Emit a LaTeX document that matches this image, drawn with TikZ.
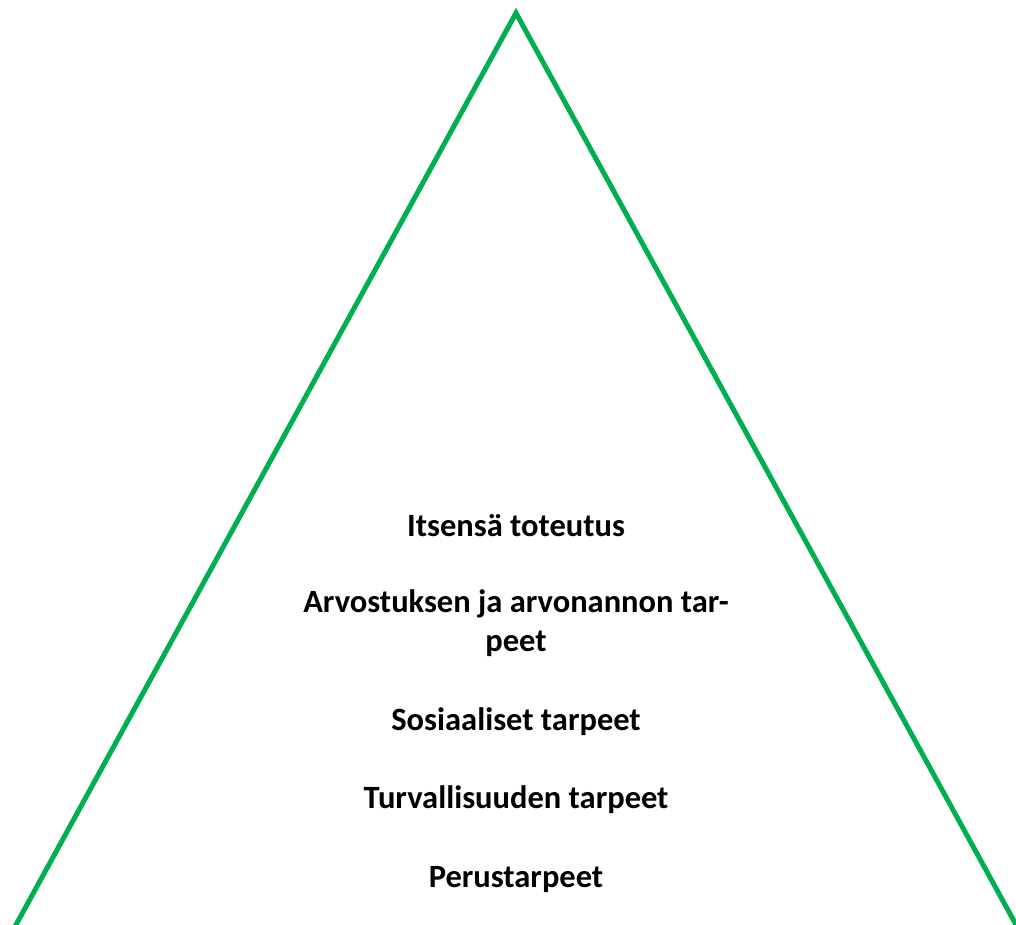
\documentclass[tikz,border=0pt]{standalone}
\usepackage{fontspec}
\setmainfont{Carlito}
\definecolor{pyrgreen}{RGB}{0,176,80}
\tikzset{
  side/.style={draw=pyrgreen, line width=5pt, line join=miter},
  level/.style={anchor=base, font=\bfseries\fontsize{32.5}{38.5}\selectfont, align=center, inner sep=0pt}
}
\begin{document}
\begin{tikzpicture}[x=1pt,y=-1pt]
\clip (0,0) rectangle (1016,924);
\coordinate (apex) at (516,13);
\coordinate (bl) at (-5,963);
\coordinate (br) at (1037,963);
\path[side] (bl) -- (apex) -- (br);
\node[level] (l5) at (516,536) {Itsensä toteutus};
\node[level, anchor=north] (l4) at (516,589.5) {Arvostuksen ja arvonannon tar-\\peet};
\node[level] (l3) at (516,730) {Sosiaaliset tarpeet};
\node[level] (l2) at (516,808) {Turvallisuuden tarpeet};
\node[level] (l1) at (516,887) {Perustarpeet};
\end{tikzpicture}
\end{document}
